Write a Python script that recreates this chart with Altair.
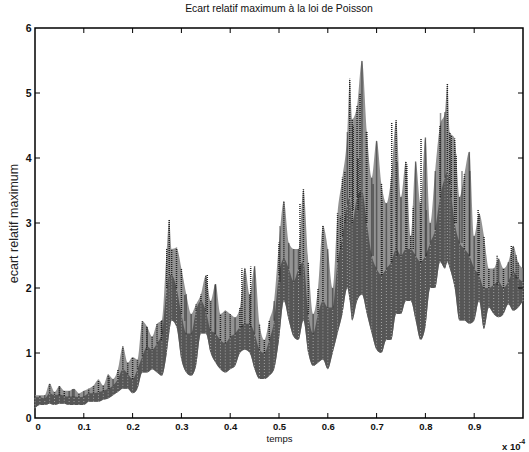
import altair as alt
import pandas as pd

# time (x 1e-4); lower edge, upper edge of the dense core, and spike tops
T = [0.00, 0.01, 0.02, 0.03, 0.04, 0.05, 0.06, 0.07, 0.08, 0.09,
     0.10, 0.11, 0.12, 0.13, 0.14, 0.15, 0.16, 0.17, 0.18, 0.19,
     0.20, 0.21, 0.22, 0.23, 0.24, 0.25, 0.26, 0.27, 0.275, 0.28, 0.29,
     0.30, 0.31, 0.32, 0.33, 0.34, 0.35, 0.36, 0.37, 0.38, 0.39,
     0.40, 0.41, 0.42, 0.43, 0.44, 0.45, 0.46, 0.47, 0.48, 0.49,
     0.50, 0.51, 0.52, 0.53, 0.54, 0.55, 0.56, 0.57, 0.58, 0.59,
     0.60, 0.61, 0.62, 0.63, 0.64, 0.645, 0.65, 0.66, 0.67, 0.68, 0.69,
     0.70, 0.71, 0.72, 0.73, 0.74, 0.75, 0.76, 0.77, 0.78, 0.79,
     0.80, 0.81, 0.82, 0.83, 0.84, 0.845, 0.85, 0.86, 0.87, 0.88, 0.89,
     0.90, 0.91, 0.92, 0.93, 0.94, 0.95, 0.96, 0.97, 0.98, 0.99, 1.00]
LOW = [0.15, 0.20, 0.20, 0.22, 0.20, 0.22, 0.22, 0.20, 0.20, 0.20,
       0.20, 0.25, 0.25, 0.25, 0.28, 0.30, 0.35, 0.40, 0.45, 0.45,
       0.38, 0.45, 0.70, 0.70, 0.75, 0.70, 0.65, 1.00, 1.30, 1.50, 1.40,
       0.90, 0.70, 0.65, 0.80, 1.30, 1.30, 1.00, 0.85, 0.75, 0.70,
       0.75, 0.80, 1.00, 1.05, 1.00, 0.75, 0.60, 0.60, 0.65, 0.75,
       1.20, 1.80, 1.50, 1.25, 1.20, 1.50, 1.00, 0.80, 0.85, 0.90,
       0.75, 1.00, 1.30, 1.60, 2.00, 1.80, 1.50, 1.80, 1.90, 1.60, 1.30,
       1.05, 1.00, 1.20, 1.20, 1.60, 1.60, 1.80, 1.80, 1.50, 1.20,
       1.40, 2.00, 2.00, 2.40, 2.30, 2.40, 2.30, 2.00, 1.50, 1.50, 1.45,
       1.50, 1.80, 1.37, 1.70, 1.60, 1.55, 1.60, 1.75, 1.65, 1.70, 1.80]
CORE = [0.32, 0.32, 0.30, 0.38, 0.35, 0.36, 0.34, 0.33, 0.33, 0.32,
        0.33, 0.38, 0.38, 0.40, 0.42, 0.45, 0.50, 0.60, 0.75, 0.68,
        0.60, 0.75, 0.95, 1.10, 1.05, 1.15, 1.30, 2.00, 2.20, 2.20, 2.00,
        1.60, 1.30, 1.30, 1.65, 1.80, 1.65, 1.35, 1.30, 1.20, 1.15,
        1.25, 1.30, 1.40, 1.45, 1.45, 1.30, 1.05, 1.00, 1.20, 1.50,
        2.20, 2.45, 2.30, 2.10, 2.30, 2.40, 1.60, 1.30, 1.60, 1.80,
        1.70, 1.70, 2.40, 2.80, 3.30, 3.40, 3.00, 3.40, 3.50, 3.00, 2.50,
        2.30, 2.20, 2.30, 2.40, 2.60, 2.50, 2.60, 2.60, 2.50, 2.40,
        2.50, 2.70, 2.90, 3.40, 3.70, 3.80, 3.60, 3.00, 2.70, 2.60, 2.50,
        2.30, 2.20, 2.00, 2.00, 2.05, 2.10, 2.00, 2.10, 2.25, 2.15, 2.10]
HIGH = [0.35, 0.35, 0.35, 0.53, 0.40, 0.49, 0.42, 0.42, 0.45, 0.38,
        0.42, 0.45, 0.50, 0.59, 0.50, 0.67, 0.60, 0.75, 1.10, 0.85,
        0.94, 0.90, 1.49, 1.40, 1.25, 1.45, 1.50, 2.60, 3.05, 2.60, 2.62,
        2.30, 1.90, 1.60, 1.75, 1.90, 2.19, 1.80, 2.06, 1.60, 1.65,
        1.60, 1.55, 1.70, 2.31, 1.90, 2.33, 1.45, 1.20, 1.50, 1.80,
        2.70, 3.34, 2.70, 2.60, 2.60, 3.52, 2.40, 1.60, 2.00, 2.96,
        2.60, 2.00, 3.15, 3.70, 4.40, 5.22, 4.60, 4.80, 5.50, 4.40, 3.70,
        4.27, 3.60, 3.30, 3.70, 4.58, 3.40, 3.95, 2.80, 3.95, 3.30,
        4.32, 3.00, 3.80, 4.50, 4.70, 5.14, 4.40, 4.30, 3.40, 3.75, 4.10,
        2.80, 3.15, 2.80, 2.30, 2.30, 2.45, 2.30, 2.40, 2.65, 2.40, 2.30]

# extra narrow spikes between the samples above
SPIKE_T = [0.050, 0.077, 0.152, 0.229, 0.259, 0.307, 0.353, 0.369, 0.424, 0.442,
           0.502, 0.543, 0.626, 0.635, 0.652, 0.662, 0.666, 0.679, 0.693, 0.711,
           0.731, 0.742, 0.762, 0.775, 0.791, 0.802, 0.831, 0.853, 0.863, 0.875,
           0.891, 0.908, 0.947, 0.976, 0.986]
SPIKE_BASE = [0.35, 0.33, 0.45, 1.05, 1.20, 1.50, 1.60, 1.30, 1.40, 1.40,
              2.10, 2.20, 2.60, 3.00, 3.20, 3.20, 3.40, 3.00, 2.50, 2.20,
              2.40, 2.50, 2.60, 2.60, 2.40, 2.50, 3.50, 3.40, 3.00, 2.70,
              2.50, 2.20, 2.05, 2.20, 2.15]
SPIKE_TOP = [0.50, 0.45, 0.62, 1.42, 1.50, 1.90, 2.20, 2.05, 2.30, 2.33,
             2.95, 3.30, 3.10, 3.80, 4.50, 4.00, 5.00, 4.40, 3.60, 3.35,
             4.55, 3.95, 3.90, 3.25, 4.30, 3.20, 4.70, 4.35, 4.05, 3.80,
             3.80, 3.20, 2.50, 2.65, 2.50]

X_TICKS = [0.0, 0.1, 0.2, 0.3, 0.4, 0.5, 0.6, 0.7, 0.8, 0.9]
Y_TICKS = [0, 1, 2, 3, 4, 5, 6]

TITLE = "Ecart relatif maximum à la loi de Poisson"
XLABEL = "temps"
YLABEL = "ecart relatif maximum"

W, H = 488, 390
FONT = "Liberation Sans"

df = pd.DataFrame({"t": T, "lo": LOW, "core": CORE, "hi": HIGH})
sp = pd.DataFrame({"t": SPIKE_T, "b": SPIKE_BASE, "top": SPIKE_TOP})
xt = pd.DataFrame({"t": X_TICKS[1:]})
yt = pd.DataFrame({"v": Y_TICKS[1:-1]})

xscale = alt.Scale(domain=[0, 1], nice=False, zero=False)
yscale = alt.Scale(domain=[0, 6], nice=False, zero=False)

xaxis = alt.Axis(values=X_TICKS, format=".1~f", tickSize=0, domain=False, grid=False,
                 labelFont=FONT, labelFontSize=9.5, labelColor="#111", labelPadding=3,
                 labelFontWeight="bold",
                 title=XLABEL, titleFont=FONT, titleFontSize=9.5, titleFontWeight="normal",
                 titleColor="#111", titlePadding=3)
yaxis = alt.Axis(values=Y_TICKS, format="d", tickSize=0, domain=False, grid=False,
                 labelFont=FONT, labelFontSize=10.5, labelColor="#111", labelPadding=4,
                 labelFontWeight="bold",
                 title=YLABEL, titleFont=FONT, titleFontSize=12.5, titleFontWeight="normal",
                 titleColor="#222", titlePadding=5)

halo = alt.Chart(df).mark_area(color="#939393", interpolate="monotone").encode(
    x=alt.X("t:Q", scale=xscale, axis=xaxis),
    y=alt.Y("lo:Q", scale=yscale, axis=yaxis),
    y2="hi:Q",
)
band = alt.Chart(df).mark_area(color="#565656", interpolate="monotone").encode(
    x=alt.X("t:Q", scale=xscale),
    y=alt.Y("lo:Q", scale=yscale),
    y2="core:Q",
)
texture = alt.Chart(df).mark_rule(color="#d8d8d8", strokeWidth=0.6, strokeDash=[1, 2]).encode(
    x=alt.X("t:Q", scale=xscale),
    y=alt.Y("lo:Q", scale=yscale),
    y2="core:Q",
)
spikes = alt.Chart(df).mark_rule(color="#222", strokeWidth=1.5, strokeDash=[1, 1]).encode(
    x=alt.X("t:Q", scale=xscale),
    y=alt.Y("core:Q", scale=yscale),
    y2="hi:Q",
)
spikes2 = alt.Chart(sp).mark_rule(color="#222", strokeWidth=1.5, strokeDash=[1, 1]).encode(
    x=alt.X("t:Q", scale=xscale),
    y=alt.Y("b:Q", scale=yscale),
    y2="top:Q",
)

tick_b = alt.Chart(xt).mark_rule(color="black", strokeWidth=1).encode(
    x=alt.X("t:Q", scale=xscale), y=alt.value(H), y2=alt.value(H - 5))
tick_t = alt.Chart(xt).mark_rule(color="black", strokeWidth=1).encode(
    x=alt.X("t:Q", scale=xscale), y=alt.value(0), y2=alt.value(5))
tick_l = alt.Chart(yt).mark_rule(color="black", strokeWidth=1).encode(
    y=alt.Y("v:Q", scale=yscale), x=alt.value(0), x2=alt.value(5))
tick_r = alt.Chart(yt).mark_rule(color="black", strokeWidth=1).encode(
    y=alt.Y("v:Q", scale=yscale), x=alt.value(W), x2=alt.value(W - 5))

mult = alt.Chart(pd.DataFrame({"s": ["x 10"]})).mark_text(
    font=FONT, fontSize=9.5, fontWeight="bold", align="left", baseline="middle", color="#111"
).encode(x=alt.value(W - 21), y=alt.value(H + 29), text="s:N")
expo = alt.Chart(pd.DataFrame({"s": ["-4"]})).mark_text(
    font=FONT, fontSize=7, fontWeight="bold", align="left", baseline="middle", color="#111"
).encode(x=alt.value(W - 4), y=alt.value(H + 24), text="s:N")

chart = alt.layer(halo, band, texture, spikes, spikes2, tick_b, tick_t, tick_l, tick_r, mult, expo).properties(
    width=W, height=H,
    title=alt.TitleParams(TITLE, font=FONT, fontSize=10.4, fontWeight="normal", color="#111", offset=9),
    autosize=alt.AutoSizeParams(type="none"),
    padding={"left": 35, "top": 28, "right": 6, "bottom": 34},
    background="white",
).configure_view(stroke="black", strokeWidth=1.5)

chart.save("out.html", embed_options={"renderer": "svg", "actions": False})
